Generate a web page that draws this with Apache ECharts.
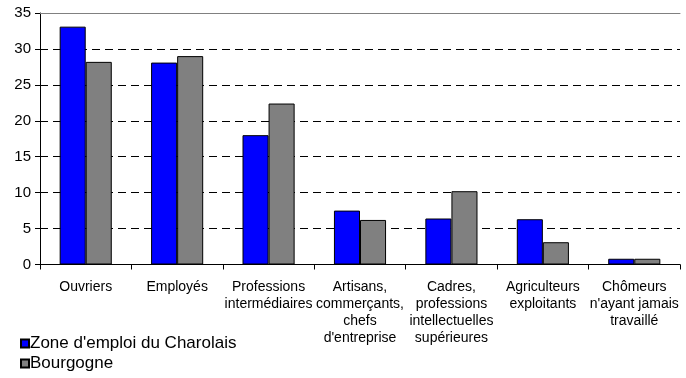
<!DOCTYPE html>
<html>
<head>
<meta charset="utf-8">
<script src="https://cdn.jsdelivr.net/npm/echarts@6/dist/echarts.min.js"></script>
<style>
  html, body { margin: 0; padding: 0; background: #fff; }
  #chart { width: 686px; height: 378px; }
</style>
</head>
<body>
<div id="chart"></div>
<script>
// categories (socio-professional groups)
const categories = [
  'Ouvriers',
  'Employés',
  'Professions\nintermédiaires',
  'Artisans,\ncommerçants,\nchefs\nd\'entreprise',
  'Cadres,\nprofessions\nintellectuelles\nsupérieures',
  'Agriculteurs\nexploitants',
  'Chômeurs\nn\'ayant jamais\ntravaillé'
];

// values in %
const charolais = [33.1, 28.1, 18.0, 7.5, 6.4, 6.3, 0.8];
const bourgogne = [28.2, 29.0, 22.4, 6.2, 10.2, 3.1, 0.8];

const font = '"Liberation Sans", Arial, sans-serif';

const chart = echarts.init(document.getElementById('chart'), null, { renderer: 'canvas' });

chart.setOption({
  animation: false,
  backgroundColor: '#fff',
  textStyle: { fontFamily: font },
  grid: { left: 40, right: 6, top: 13, bottom: 113.5, containLabel: false },
  legend: {
    orient: 'vertical',
    left: 20,
    top: 335,
    padding: 0,
    itemWidth: 8,
    itemHeight: 8,
    itemGap: 3,
    icon: 'rect',
    textStyle: { fontSize: 17, color: '#000', fontFamily: font, padding: [0, 0, 0, -4] },
    data: ['Zone d\'emploi du Charolais', 'Bourgogne']
  },
  xAxis: [{
    type: 'category',
    data: categories,
    axisLine: { lineStyle: { color: '#000', width: 1 } },
    axisTick: { show: true, length: 5, lineStyle: { color: '#000' } },
    axisLabel: {
      interval: 0,
      margin: 14,
      fontSize: 14,
      lineHeight: 17,
      color: '#000',
      fontFamily: font
    }
  }, {
    type: 'category',
    position: 'top',
    data: categories,
    axisLine: { lineStyle: { color: '#808080', width: 1 } },
    axisTick: { show: false },
    axisLabel: { show: false }
  }],
  yAxis: {
    type: 'value',
    min: 0,
    max: 35,
    interval: 5,
    axisLine: { show: true, lineStyle: { color: '#000', width: 1 } },
    axisTick: { show: true, length: 5, lineStyle: { color: '#000' } },
    axisLabel: { fontSize: 15, color: '#000', margin: 9, fontFamily: font },
    splitLine: {
      show: true,
      showMaxLine: false,
      lineStyle: { color: '#000', type: [8, 5], width: 1 }
    }
  },
  series: [{
    name: 'Zone d\'emploi du Charolais',
    type: 'bar',
    data: charolais,
    barGap: '0%',
    barCategoryGap: '43%',
    itemStyle: { color: '#0000ff', borderColor: '#000', borderWidth: 1 }
  }, {
    name: 'Bourgogne',
    type: 'bar',
    data: bourgogne,
    itemStyle: { color: '#808080', borderColor: '#000', borderWidth: 1 }
  }]
});
</script>
</body>
</html>
